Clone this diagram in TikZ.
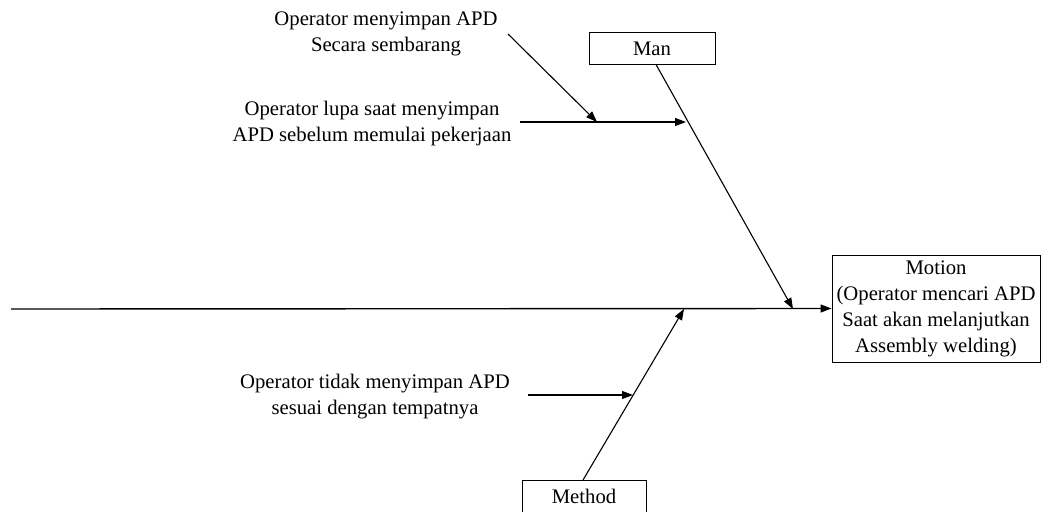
\documentclass[tikz,border=0pt]{standalone}
\usepackage{fontspec}
\setmainfont{Liberation Serif}
\usetikzlibrary{arrows.meta}
\begin{document}
\begin{tikzpicture}[x=1pt,y=-1pt,
  txt/.style={align=center,font=\fontsize{20.7}{26}\selectfont,inner sep=0pt},
  boxnode/.style={draw,line width=1pt,inner sep=0pt,font=\fontsize{20.7}{26}\selectfont,align=center},
  bone/.style={line width=1.1pt,-{Triangle[length=11pt,width=8pt]}},
  spine/.style={line width=1.4pt,-{Triangle[length=11pt,width=8pt]}}]
\useasboundingbox (0,0) rectangle (1043,511);
\clip (0,0) rectangle (1043,511);

% effect box and category boxes
\node[boxnode,minimum width=208pt,minimum height=107pt] (motion) at (936,308.5)
  {Motion\\(Operator mencari APD\\Saat akan melanjutkan\\Assembly welding)};
\node[boxnode,minimum width=126pt,minimum height=31pt] (man) at (652,48.5) {Man};
\node[boxnode,minimum width=124pt,minimum height=32pt] (method) at (584,496) {Method};

% cause texts
\node[txt] (t1) at (386,34) {Operator menyimpan APD\\Secara sembarang};
\node[txt] (t2) at (372,123.5) {Operator lupa saat menyimpan\\APD sebelum memulai pekerjaan};
\node[txt] (t3) at (375,396.5) {Operator tidak menyimpan APD\\sesuai dengan tempatnya};

% anchor points of the bones
\coordinate (spineStart) at (11,309);
\coordinate (manStart) at (656,64.5);
\coordinate (manEnd) at (793,309);
\coordinate (methodStart) at (583,480);
\coordinate (methodEnd) at (684,309);
\coordinate (c1s) at (520,122);
\coordinate (c1e) at (686,122);
\coordinate (c2s) at (508,34);
\coordinate (c2e) at (597,122);
\coordinate (c3s) at (528,395);
\coordinate (c3e) at (633,395);

% spine and main bones
\draw[spine] (spineStart) -- (motion.west);
\draw[bone] (manStart) -- (manEnd);
\draw[bone] (methodStart) -- (methodEnd);

% cause arrows
\draw[bone] (c1s) -- (c1e);
\draw[bone] (c2s) -- (c2e);
\draw[bone] (c3s) -- (c3e);
\end{tikzpicture}
\end{document}
